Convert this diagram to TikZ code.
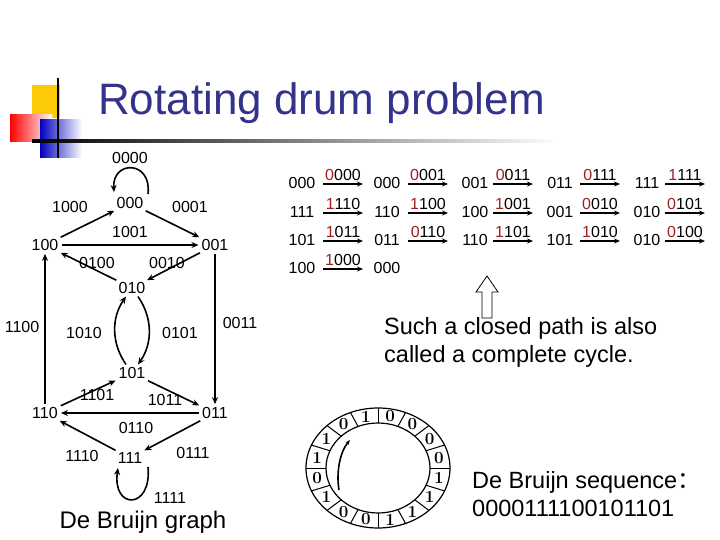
\documentclass[tikz,border=0pt]{standalone}
\usepackage{fontspec}
\setmainfont{Liberation Sans}
\newfontfamily\serifb{Latin Modern Roman}
\newfontfamily\cjk{Noto Sans CJK SC}
\usetikzlibrary{arrows.meta}
\definecolor{titleblue}{RGB}{51,51,140}
\definecolor{dred}{RGB}{160,30,30}
\begin{document}
\begin{tikzpicture}[x=1pt,y=-1pt,
  lbl/.style={font=\fontsize{16}{16}\selectfont,inner sep=1pt},
  edge/.style={line width=1.6pt,-{Stealth[length=7pt,width=6pt]},shorten >=2pt,shorten <=2pt},
  tarr/.style={line width=1.4pt,-{Stealth[length=6pt,width=5pt]}},
  big/.style={font=\fontsize{23.5}{28}\selectfont,inner sep=0pt,align=left,anchor=west}]
\useasboundingbox (0,0) rectangle (720,540);
% decor
\fill[yellow!60!orange!90!yellow] (32,85) rectangle (60,118);
\shade[left color=red, right color=white] (10,115) rectangle (52,142);
\shade[left color=blue!75!black, right color=white] (40,120) rectangle (82,158);
\shade[left color=black, right color=white] (32,140) rectangle (560,142.5);
\draw[line width=1.2pt] (58,78) -- (58,158);
\node[font=\fontsize{44}{46}\selectfont,text=titleblue,anchor=west,inner sep=0pt] (title) at (98,103) {Rotating drum problem};
% graph nodes
\node[lbl] (n000) at (130,203) {000};
\node[lbl] (n100) at (45,245) {100};
\node[lbl] (n001) at (215,245) {001};
\node[lbl] (n010) at (132,288) {010};
\node[lbl] (n101) at (132,373) {101};
\node[lbl] (n110) at (45,413) {110};
\node[lbl] (n011) at (215,413) {011};
\node[lbl] (n111) at (130,458) {111};
% edge labels
\node[lbl] (l0000) at (130,158) {0000};
\node[lbl] (l1000) at (70,207) {1000};
\node[lbl] (l0001) at (190,207) {0001};
\node[lbl] (l1001) at (130,232) {1001};
\node[lbl] (l0100) at (97,263) {0100};
\node[lbl] (l0010) at (167,263) {0010};
\node[lbl] (l1100) at (22,327) {1100};
\node[lbl] (l1010) at (84,333) {1010};
\node[lbl] (l0101) at (180,333) {0101};
\node[lbl] (l0011) at (240,323) {0011};
\node[lbl] (l1101) at (97,395) {1101};
\node[lbl] (l1011) at (165,400) {1011};
\node[lbl] (l0110) at (136,428) {0110};
\node[lbl] (l1110) at (82,456) {1110};
\node[lbl] (l0111) at (193,453) {0111};
\node[lbl] (l1111) at (170,498) {1111};
\node[font=\fontsize{24}{26}\selectfont,inner sep=0pt] (gtitle) at (143,522) {De Bruijn graph};
% edges
\coordinate (a0s) at (148,194); \coordinate (a0e) at (114,192);
\draw[edge,shorten <=0pt,shorten >=0pt] (a0s) .. controls (152,160) and (112,160) .. (a0e);
\coordinate (a7s) at (148,467); \coordinate (a7e) at (118,468);
\draw[edge,shorten <=0pt,shorten >=0pt] (a7s) .. controls (152,510) and (112,510) .. (a7e);
\draw[edge] (n100) -- (n000);
\draw[edge] (n000) -- (n001);
\draw[edge] (n100) -- (n001);
\draw[edge] (n010) -- (n100);
\draw[edge] (n001) -- (n010);
\draw[edge] (n110) -- (n100);
\draw[edge] (n001) -- (n011);
\draw[edge] (n010) to[bend left=35] (n101);
\draw[edge] (n101) to[bend left=35] (n010);
\draw[edge] (n110) -- (n101);
\draw[edge] (n101) -- (n011);
\draw[edge] (n011) -- (n110);
\draw[edge] (n111) -- (n110);
\draw[edge] (n011) -- (n111);
% table
\foreach \row/\yy/\names/\labs in {
 1/183/{000,000,001,011,111}/{0/000,0/001,0/011,0/111,1/111},
 2/212/{111,110,100,001,010}/{1/110,1/100,1/001,0/010,0/101},
 3/240/{101,011,110,101,010}/{1/011,0/110,1/101,1/010,0/100}}{
  \foreach \nm [count=\i] in \names {
    \pgfmathsetmacro\xx{{302,387,475,560,647}[\i-1]}
    \node[lbl] (t\row-\i) at (\xx,\yy) {\nm};
  }
  \foreach \fa/\fb [count=\i] in \labs {
    \pgfmathsetmacro\xa{{323,408,493,580,665}[\i-1]}
    \coordinate (s\row-\i) at (\xa,\yy+1);
    \coordinate (e\row-\i) at (\xa+40,\yy+1);
    \draw[tarr] (s\row-\i) -- (e\row-\i);
    \node[lbl,anchor=south] (tl\row-\i) at (\xa+20,\yy-1) {\textcolor{dred}{\fa}\fb};
  }
}
\node[lbl] (t4-1) at (302,268) {100};
\node[lbl] (t4-2) at (387,268) {000};
\coordinate (s4) at (323,269); \coordinate (e4) at (363,269);
\draw[tarr] (s4) -- (e4);
\node[lbl,anchor=south] (tl4) at (343,267) {\textcolor{dred}{1}000};
% hollow arrow
\draw[line width=0.8pt,fill=white] (482,318) -- (482,292) -- (476,292) -- (487,276) -- (498,292) -- (492,292) -- (492,318) -- cycle;
\node[big] (txt1) at (384,342) {Such a closed path is also\\called a complete cycle.};
\node[big] (txt2) at (472,494) {De Bruijn sequence{\cjk ：}\\0000111100101101};
% drum
\def\cx{378}\def\cy{468}
\draw[line width=1.2pt] (\cx,\cy) ellipse [x radius=72, y radius=60];
\draw[line width=1.2pt] (\cx,\cy) ellipse [x radius=52, y radius=45];
\foreach \k in {0,...,15}{
  \draw[line width=1pt] ({\cx+52*cos(90-\k*22.5)},{\cy-45*sin(90-\k*22.5)}) -- ({\cx+72*cos(90-\k*22.5)},{\cy-60*sin(90-\k*22.5)});
}
\foreach \d [count=\k] in {0,1,0,0,0,0,1,1,1,1,0,0,1,0,1,1}{
  \pgfmathsetmacro\ang{90+33.75-(\k-1)*22.5}
  \node[font=\serifb\bfseries\fontsize{17}{17}\selectfont,inner sep=0pt] (d\k) at ({\cx+62*cos(\ang)},{\cy-52.5*sin(\ang)}) {\d};
}
\coordinate (ds) at (339,490);
\coordinate (de) at (350,440);
\draw[line width=1.6pt,-{Stealth[length=5pt]}] (ds) .. controls (336,472) and (340,452) .. (de);
\end{tikzpicture}
\end{document}
